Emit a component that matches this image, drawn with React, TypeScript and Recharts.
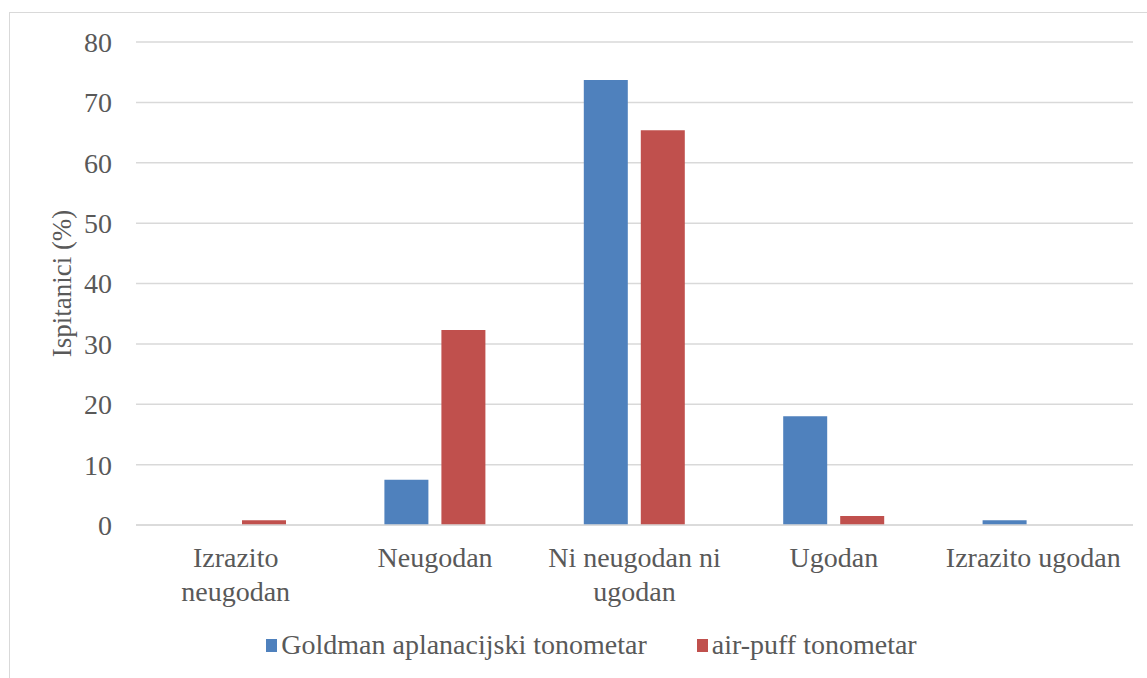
import React from "react";
import { BarChart, Bar, XAxis, YAxis, CartesianGrid, Legend, Label } from "recharts";

const categories = ["Izrazito neugodan", "Neugodan", "Ni neugodan ni ugodan", "Ugodan", "Izrazito ugodan"];
const tickLines = [["Izrazito", "neugodan"], ["Neugodan"], ["Ni neugodan ni", "ugodan"], ["Ugodan"], ["Izrazito ugodan"]];
const goldman = [0, 7.5, 73.7, 18.0, 0.8];
const airPuff = [0.8, 32.3, 65.4, 1.5, 0];
const seriesNames = ["Goldman aplanacijski tonometar", "air-puff tonometar"];
const seriesColors = ["#4F81BD", "#C0504D"];
const yTicks = [0, 10, 20, 30, 40, 50, 60, 70, 80];

const data = categories.map((c, i) => ({ name: c, g: goldman[i], a: airPuff[i], idx: i }));

const FONT = "Liberation Serif";
const TEXT = "#595959";

const CatTick = (props: any) => {
  const { x, y, payload } = props;
  const lines = tickLines[payload.index] || [payload.value];
  return (
    <text x={x} y={y + 42} textAnchor="middle" fill={TEXT} style={{ fontFamily: FONT, fontSize: 28 }}>
      {lines.map((l: string, i: number) => (
        <tspan key={i} x={x} dy={i === 0 ? 0 : 34}>{l}</tspan>
      ))}
    </text>
  );
};

const LegendContent = () => (
  <div style={{ display: "flex", justifyContent: "center", alignItems: "center", height: 30, paddingLeft: 36, fontFamily: FONT, fontSize: 28, color: TEXT, whiteSpace: "nowrap" }}>
    {seriesNames.map((n, i) => (
      <div key={n} style={{ display: "flex", alignItems: "center", marginLeft: i === 0 ? 0 : 50 }}>
        <div style={{ width: 11, height: 13, background: seriesColors[i], marginRight: 4 }} />
        <span>{n}</span>
      </div>
    ))}
  </div>
);

const YLabel = (props: any) => {
  const vb = props.viewBox || {};
  const cy = (vb.y || 0) + (vb.height || 0) / 2;
  const cx = 62;
  return (
    <text x={cx} y={cy} transform={`rotate(-90 ${cx} ${cy})`} textAnchor="middle" dominantBaseline="central" fill={TEXT} style={{ fontFamily: FONT, fontSize: 27 }}>
      Ispitanici (%)
    </text>
  );
};

export default function App() {
  return (
    <div style={{ position: "absolute", left: 0, top: 0, width: 1147, height: 678, overflow: "hidden", background: "#fff", fontFamily: FONT }}>
      <div style={{ position: "absolute", left: 9, top: 12, width: 1200, height: 700, border: "1px solid #d9d9d9", boxSizing: "border-box" }} />
      <div style={{ position: "absolute", left: 0, top: 0 }}>
        <BarChart width={1147} height={678} data={data} margin={{ top: 42, right: 14, left: 0, bottom: 53 }} barSize={44} barGap={13} style={{ fontFamily: FONT }}>
          <CartesianGrid vertical={false} stroke="#d9d9d9" strokeWidth={1.5} />
          <XAxis dataKey="name" axisLine={{ stroke: "#d9d9d9", strokeWidth: 1.5 }} tickLine={false} tickSize={0} tickMargin={0} height={70} interval={0} tick={<CatTick />} />
          <YAxis width={136} domain={[0, 80]} ticks={yTicks} axisLine={false} tickLine={false} tickSize={0} tickMargin={24} tick={{ fill: TEXT, style: { fontFamily: FONT }, fontSize: 28 }}>
            <Label content={<YLabel />} />
          </YAxis>
          <Legend content={<LegendContent />} wrapperStyle={{ top: 630, left: 0, width: 1147, bottom: "auto" }} />
          <Bar dataKey="g" name={seriesNames[0]} fill={seriesColors[0]} isAnimationActive={false} />
          <Bar dataKey="a" name={seriesNames[1]} fill={seriesColors[1]} isAnimationActive={false} />
        </BarChart>
      </div>
    </div>
  );
}
